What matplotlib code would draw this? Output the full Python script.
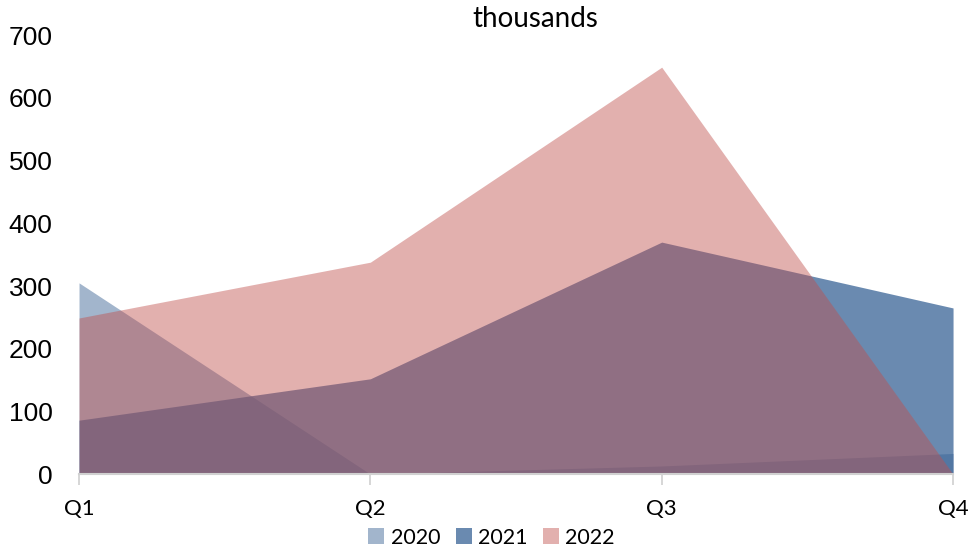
import numpy as np
import matplotlib.pyplot as plt

quarters = ["Q1", "Q2", "Q3", "Q4"]
years = ["2020", "2021", "2022"]
v2020 = [305, 0, 13, 33]
v2021 = [86, 152, 370, 265]
v2022 = [249, 338, 649, 0]

colors = ["#839cbb", "#386396", "#c0504d"]
alphas = [0.75, 0.75, 0.45]

fig = plt.figure(figsize=(9.72, 5.5), dpi=100)
ax = fig.add_axes([0.0813, 0.138, 0.8992, 0.798])

x = np.arange(len(quarters))
for vals, c, a, name in zip([v2020, v2021, v2022], colors, alphas, years):
    ax.fill_between(x, 0, vals, color=c, alpha=a, linewidth=0, label=name)

ax.set_xlim(0, 3)
ax.set_ylim(0, 700)
ax.set_yticks(range(0, 701, 100))
ax.set_xticks(x)
ax.set_xticklabels(quarters, family="Lato", fontsize=16)
for lab in ax.get_yticklabels():
    lab.set_family("Liberation Sans")
    lab.set_fontsize(19)

for s in ["top", "right", "left"]:
    ax.spines[s].set_visible(False)
ax.spines["bottom"].set_color("#d0d0d0")
ax.spines["bottom"].set_linewidth(1.5)
ax.tick_params(axis="x", direction="out", length=8, width=1.2, color="#d0d0d0", pad=10)
ax.tick_params(axis="y", length=0, pad=19)

fig.text(0.551, 0.965, "thousands", ha="center", va="center", family="Lato", fontsize=20)

leg = ax.legend(loc="center", bbox_to_anchor=(0.472, -0.145), ncol=3, frameon=False,
                prop={"family": "Lato", "size": 15.5}, handlelength=0.75, handleheight=0.75,
                handletextpad=0.3, columnspacing=0.7, borderaxespad=0)

fig.savefig("out.png", dpi=100)
